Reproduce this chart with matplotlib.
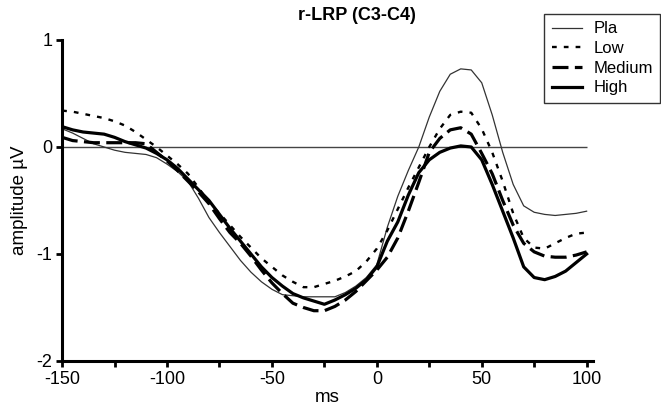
import numpy as np
import matplotlib.pyplot as plt
from matplotlib.ticker import MultipleLocator

plt.rcParams['font.family'] = ['Liberation Sans', 'DejaVu Sans']
plt.rcParams['axes.unicode_minus'] = False

# time axis (ms) and r-LRP amplitudes (uV) for each condition
times = np.arange(-150, 101, 5)

pla = [0.17, 0.13, 0.08, 0.03, 0.0, -0.03, -0.05, -0.06, -0.07, -0.1,
       -0.16, -0.23, -0.32, -0.48, -0.66, -0.8, -0.93, -1.06, -1.17, -1.26,
       -1.33, -1.38, -1.39, -1.4, -1.4, -1.4, -1.4, -1.36, -1.3, -1.22,
       -1.1, -0.75, -0.46, -0.22, 0.0, 0.28, 0.52, 0.68, 0.73, 0.72,
       0.6, 0.3, -0.05, -0.35, -0.55, -0.61, -0.63, -0.64, -0.63, -0.62, -0.6]

low = [0.34, 0.33, 0.31, 0.29, 0.27, 0.24, 0.2, 0.14, 0.07, 0.0,
       -0.08, -0.16, -0.25, -0.38, -0.52, -0.62, -0.73, -0.84, -0.94, -1.04,
       -1.12, -1.2, -1.26, -1.31, -1.31, -1.28, -1.25, -1.21, -1.16, -1.07,
       -0.95, -0.78, -0.58, -0.38, -0.19, 0.0, 0.17, 0.3, 0.33, 0.32,
       0.17, -0.05, -0.32, -0.62, -0.85, -0.94, -0.95, -0.9, -0.85, -0.81, -0.8]

medium = [0.09, 0.06, 0.05, 0.04, 0.04, 0.04, 0.04, 0.04, 0.03, -0.05,
          -0.13, -0.22, -0.32, -0.42, -0.53, -0.67, -0.8, -0.9, -1.02, -1.15,
          -1.27, -1.37, -1.46, -1.5, -1.53, -1.53, -1.49, -1.43, -1.35, -1.25,
          -1.15, -1.03, -0.85, -0.6, -0.33, -0.05, 0.08, 0.16, 0.18, 0.12,
          -0.06, -0.25, -0.5, -0.73, -0.9, -0.98, -1.02, -1.03, -1.03, -1.01, -0.98]

high = [0.19, 0.16, 0.14, 0.13, 0.12, 0.09, 0.05, 0.02, -0.01, -0.06,
        -0.12, -0.2, -0.3, -0.4, -0.5, -0.63, -0.76, -0.88, -1.0, -1.12,
        -1.22, -1.3, -1.37, -1.41, -1.44, -1.47, -1.43, -1.38, -1.32, -1.24,
        -1.12, -0.88, -0.7, -0.45, -0.24, -0.12, -0.05, -0.01, 0.01, 0.0,
        -0.12, -0.35, -0.6, -0.85, -1.12, -1.22, -1.24, -1.21, -1.16, -1.08, -1.0]

fig = plt.figure(figsize=(6.61, 4.08), dpi=100)
ax = fig.add_axes([0.094, 0.1152, 0.803, 0.7868])

# zero reference line
ax.hlines(0, times[0], times[-1], color='#444444', lw=1.0)

ax.plot(times, pla, color='#333333', lw=0.9, label='Pla')
ax.plot(times, low, color='black', lw=1.7, dashes=(2, 3), label='Low')
ax.plot(times, medium, color='black', lw=2.3, dashes=(5, 2), label='Medium')
ax.plot(times, high, color='black', lw=2.3, label='High')

ax.set_xlim(-150, 103)
ax.set_ylim(-2, 1)
ax.xaxis.set_major_locator(MultipleLocator(50))
ax.xaxis.set_minor_locator(MultipleLocator(25))
ax.yaxis.set_major_locator(MultipleLocator(1))

for side in ['top', 'right']:
    ax.spines[side].set_visible(False)
for side in ['left', 'bottom']:
    ax.spines[side].set_linewidth(2.2)

ax.tick_params(axis='both', which='major', direction='out', length=4, width=2,
               labelsize=13, pad=3)
ax.tick_params(axis='x', which='minor', direction='out', length=4, width=2)

ax.set_xlabel('ms', fontsize=13.5, labelpad=1)
ax.set_ylabel('amplitude µV', fontsize=13.5, labelpad=6)
fig.text(0.54, 0.962, 'r-LRP (C3-C4)', ha='center', va='center',
         fontsize=13, fontweight='bold')

leg = ax.legend(loc='upper right', bbox_to_anchor=(0.999, 0.966),
                bbox_transform=fig.transFigure, fontsize=12, frameon=True,
                fancybox=False, edgecolor='black', handlelength=1.8,
                handletextpad=0.7, borderpad=0.45, labelspacing=0.28,
                borderaxespad=0, alignment='left')
leg.get_frame().set_linewidth(1.0)

fig.savefig('out.png', dpi=100)
